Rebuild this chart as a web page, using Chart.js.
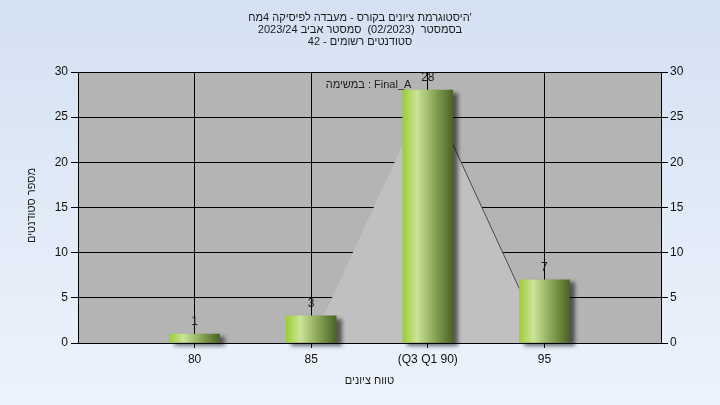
<!DOCTYPE html>
<html>
<head>
<meta charset="utf-8">
<script src="https://cdn.jsdelivr.net/npm/chart.js@4.4.1/dist/chart.umd.min.js"></script>
<style>
  html, body { margin: 0; padding: 0; }
  body { width: 720px; height: 405px; background: linear-gradient(#d4e1f2, #edf3fc); }
  #wrap { width: 720px; height: 405px; }
</style>
</head>
<body>
<div id="wrap"><canvas id="gradesChart" width="720" height="405"></canvas></div>
<script>
// ─── GRADE HISTOGRAM ─────────────────────────────────────────────────────
// values

var scoreBins     = [80, 85, 90, 95];
var studentCounts = [1, 3, 28, 7];
var tickLabels    = ['80', '85', '(Q3 Q1 90)', '95'];

// light grey "spread" triangle behind the bars (Q1 → median → Q3)
var spreadX = [85, 90, 95];
var spreadY = [0, 28, 0];

var titleLines = [
  "היסטוגרמת ציונים בקורס - מעבדה לפיסיקה 4מח'",
  'בסמסטר  (02/2023)  סמסטר אביב 2023/24',
  'סטודנטים רשומים - 42'
];
var xTitle = 'טווח ציונים';
var yTitle = 'מספר סטודנטים';
var taskLabel = 'במשימה : Final_A';

var BAR_W = 50;
var FONT = "'Liberation Sans', Arial, sans-serif";

Chart.defaults.font.family = FONT;
Chart.defaults.font.size = 12;
Chart.defaults.color = '#111';

// grey plot background
var plotBg = {
  id: 'plotBg',
  beforeDraw: function(chart) {
    var a = chart.chartArea, c = chart.ctx;
    c.save();
    c.fillStyle = '#b4b4b4';
    c.fillRect(a.left, a.top, a.right - a.left, a.bottom - a.top);
    c.restore();
  }
};

// soft drop shadow under the bars
var barShadow = {
  id: 'barShadow',
  beforeDatasetDraw: function(chart, args) {
    if (args.meta.type !== 'bar') return;
    var c = chart.ctx;
    c.save();
    c.shadowColor = 'rgba(0,0,0,0.55)';
    c.shadowBlur = 4;
    c.shadowOffsetX = 5;
    c.shadowOffsetY = 3;
  },
  afterDatasetDraw: function(chart, args) {
    if (args.meta.type !== 'bar') return;
    chart.ctx.restore();
  }
};

// value labels over bars, task caption, chart + axis titles
var texts = {
  id: 'texts',
  afterDatasetsDraw: function(chart) {
    var c = chart.ctx, a = chart.chartArea;
    var midX = (a.left + a.right) / 2;
    c.save();
    c.direction = 'ltr';
    c.textAlign = 'center';
    c.textBaseline = 'middle';

    c.font = '12px ' + FONT;
    c.fillStyle = '#1a1a1a';
    chart.getDatasetMeta(2).data.forEach(function(bar, i) {
      c.fillText(String(studentCounts[i]), bar.x, bar.y - 12);
    });

    c.font = '11px ' + FONT;
    c.fillStyle = '#222';
    c.fillText(taskLabel, midX - 1, a.top + 13);

    c.fillStyle = '#1a1a1a';
    titleLines.forEach(function(line, i) {
      c.fillText(line, chart.width / 2, 18 + i * 12);
    });
    c.fillText(xTitle, midX, 381);

    c.translate(32, (a.top + a.bottom) / 2 - 2);
    c.rotate(-Math.PI / 2);
    c.fillText(yTitle, 0, 0);
    c.restore();
  }
};

function barFill(ctx) {
  var chart = ctx.chart;
  if (!chart.chartArea || ctx.type !== 'data' || !ctx.raw) return '#9acd32';
  var cx = chart.scales.x.getPixelForValue(ctx.raw.x);
  var g = chart.ctx.createLinearGradient(cx - BAR_W / 2, 0, cx + BAR_W / 2, 0);
  g.addColorStop(0,    '#9ccd38');
  g.addColorStop(0.28, '#cbe497');
  g.addColorStop(0.6,  '#8fab5c');
  g.addColorStop(1,    '#4a6524');
  return g;
}

new Chart(document.getElementById('gradesChart'), {
  data: {
    datasets: [
      {
        type: 'line',
        data: spreadX.map(function(x, i) { return { x: x, y: spreadY[i] }; }),
        backgroundColor: '#c0c0c0',
        borderWidth: 0,
        pointRadius: 0,
        fill: 'origin',
        tension: 0,
        order: 3
      },
      {
        type: 'line',
        data: spreadX.slice(1).map(function(x, i) { return { x: x, y: spreadY[i + 1] }; }),
        borderColor: '#4a4a4a',
        borderWidth: 1,
        pointRadius: 0,
        fill: false,
        tension: 0,
        order: 2
      },
      {
        type: 'bar',
        data: scoreBins.map(function(x, i) { return { x: x, y: studentCounts[i] }; }),
        backgroundColor: barFill,
        borderWidth: 0,
        barThickness: BAR_W,
        clip: false,
        order: 1
      }
    ]
  },
  options: {
    responsive: false,
    animation: false,
    events: [],
    layout: { padding: { top: 72 } },
    plugins: {
      legend: { display: false },
      tooltip: { enabled: false },
      title: { display: false }
    },
    scales: {
      x: {
        type: 'linear',
        min: 75, max: 100,
        offset: false,
        afterBuildTicks: function(axis) { axis.ticks = scoreBins.map(function(v) { return { value: v }; }); },
        afterFit: function(axis) { axis.height = 62; },
        grid: { color: '#000', tickLength: 5, offset: false },
        border: { color: '#000' },
        ticks: {
          color: '#111', padding: 4, maxRotation: 0, autoSkip: false,
          callback: function(v) { var i = scoreBins.indexOf(v); return i < 0 ? '' : tickLabels[i]; }
        }
      },
      y: {
        position: 'left',
        min: 0, max: 30,
        afterFit: function(axis) { axis.width = 78; },
        grid: { color: '#000', tickLength: 7 },
        border: { color: '#000' },
        ticks: { stepSize: 5, color: '#111', padding: 3 }
      },
      y2: {
        position: 'right',
        min: 0, max: 30,
        afterFit: function(axis) { axis.width = 59; },
        grid: { color: '#000', tickLength: 7, drawOnChartArea: false },
        border: { color: '#000' },
        ticks: { stepSize: 5, color: '#111', padding: 2 }
      }
    }
  },
  plugins: [plotBg, barShadow, texts]
});
</script>
</body>
</html>
